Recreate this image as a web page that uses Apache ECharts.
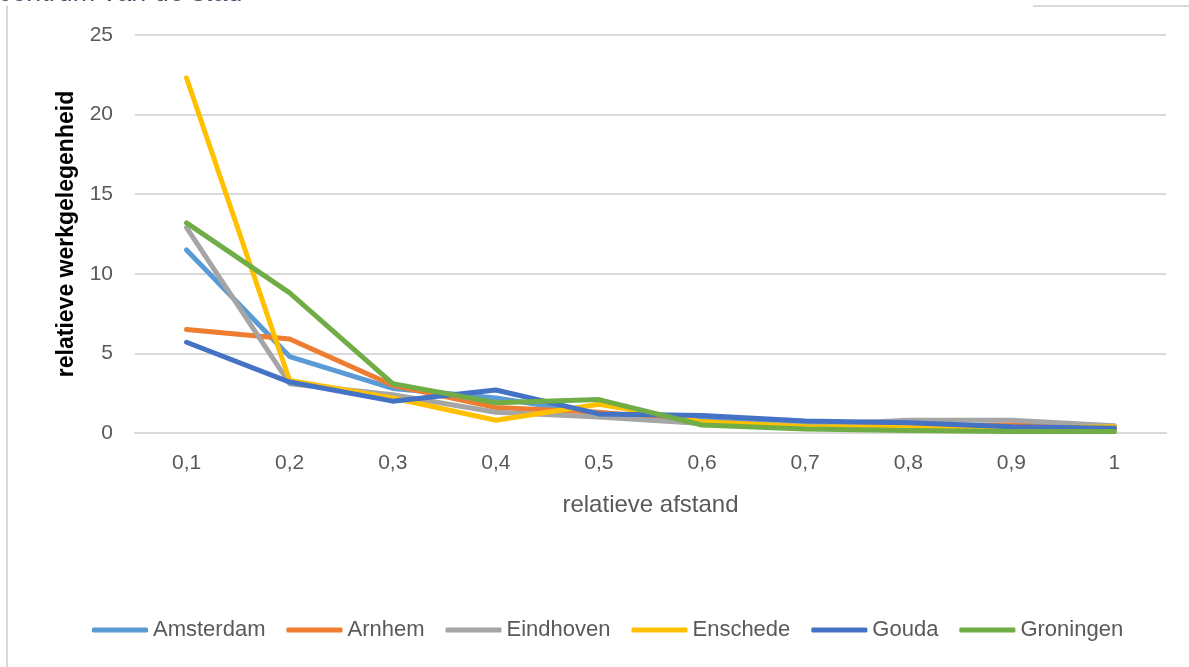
<!DOCTYPE html>
<html>
<head>
<meta charset="utf-8">
<script src="https://cdn.jsdelivr.net/npm/echarts@6/dist/echarts.min.js"></script>
<style>
  html, body { margin: 0; padding: 0; background: #ffffff; }
  #chart { width: 1189px; height: 667px; }
</style>
</head>
<body>
<div id="chart"></div>
<script>
// relative distance from the city centre (categories on the x axis)
const afstand = ['0,1', '0,2', '0,3', '0,4', '0,5', '0,6', '0,7', '0,8', '0,9', '1'];

// relative employment per city
const amsterdam = [11.5, 4.8, 2.8, 2.2, 1.2, 0.9, 0.5, 0.4, 0.3, 0.3];
const arnhem    = [6.5, 5.9, 3.0, 1.6, 1.3, 0.7, 0.4, 0.4, 0.5, 0.4];
const eindhoven = [12.9, 3.1, 2.4, 1.3, 1.0, 0.6, 0.5, 0.8, 0.8, 0.45];
const enschede  = [22.3, 3.3, 2.2, 0.8, 1.8, 0.7, 0.4, 0.35, 0.3, 0.4];
const gouda     = [5.7, 3.2, 2.0, 2.7, 1.2, 1.1, 0.75, 0.65, 0.4, 0.3];
const groningen = [13.2, 8.8, 3.1, 1.9, 2.1, 0.5, 0.25, 0.15, 0.1, 0.1];

const steden = ['Amsterdam', 'Arnhem', 'Eindhoven', 'Enschede', 'Gouda', 'Groningen'];
const reeksen = [amsterdam, arnhem, eindhoven, enschede, gouda, groningen];
const kleuren = ['#5B9BD5', '#ED7D31', '#A5A5A5', '#FFC000', '#4472C4', '#70AD47'];

const FONT = '"Liberation Sans", Arial, sans-serif';

const chart = echarts.init(document.getElementById('chart'), null, { renderer: 'canvas' });

chart.setOption({
  backgroundColor: '#ffffff',
  animation: false,
  color: kleuren,
  grid: { left: 135, right: 23, top: 35, bottom: 234, containLabel: false },
  legend: {
    data: steden,
    bottom: 21,
    left: 87,
    icon: 'roundRect',
    itemWidth: 56,
    itemHeight: 5,
    itemGap: 21,
    textStyle: { fontFamily: FONT, fontSize: 22, color: '#595959' }
  },
  xAxis: {
    type: 'category',
    data: afstand,
    boundaryGap: true,
    name: 'relatieve afstand',
    nameLocation: 'middle',
    nameGap: 60,
    nameTextStyle: { fontFamily: FONT, fontSize: 24, color: '#595959' },
    axisLine: { show: true, lineStyle: { color: '#D9D9D9', width: 2 } },
    axisTick: { show: false },
    axisLabel: { fontFamily: FONT, fontSize: 21, color: '#595959', margin: 20 },
    splitLine: { show: false }
  },
  yAxis: {
    type: 'value',
    min: 0,
    max: 25,
    interval: 5,
    name: 'relatieve werkgelegenheid',
    nameLocation: 'middle',
    nameGap: 57,
    nameRotate: 90,
    nameTextStyle: { fontFamily: FONT, fontSize: 23, fontWeight: 'bold', color: '#000000' },
    axisLine: { show: false },
    axisTick: { show: false },
    axisLabel: { fontFamily: FONT, fontSize: 21, color: '#595959', margin: 22 },
    splitLine: { lineStyle: { color: '#D9D9D9', width: 2 } }
  },
  series: reeksen.map((waarden, i) => ({
    name: steden[i],
    type: 'line',
    data: waarden,
    symbol: 'none',
    smooth: false,
    lineStyle: { width: 5, color: kleuren[i], cap: 'round', join: 'round' },
    itemStyle: { color: kleuren[i] }
  })),
  graphic: [
    // caption sitting above the chart frame
    {
      type: 'text',
      left: -1,
      top: -20,
      style: {
        text: 'centrum van de stad',
        fontFamily: FONT,
        fontStyle: 'italic',
        fontSize: 27,
        fill: '#44546A'
      },
      z: 10
    },
    // chart frame: left edge and the visible part of the top edge
    {
      type: 'line',
      shape: { x1: 7, y1: 6, x2: 7, y2: 667 },
      style: { stroke: '#D9D9D9', lineWidth: 2 }
    },
    {
      type: 'line',
      shape: { x1: 1033, y1: 6, x2: 1189, y2: 6 },
      style: { stroke: '#D9D9D9', lineWidth: 2 }
    }
  ]
});
</script>
</body>
</html>
